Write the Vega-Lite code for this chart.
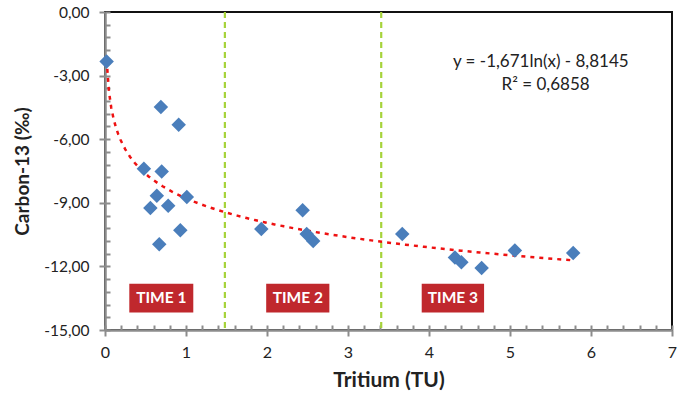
{
  "$schema": "https://vega.github.io/schema/vega-lite/v6.json",
  "width": 567,
  "height": 318,
  "autosize": "none",
  "padding": {"left": 105, "top": 12, "right": 23, "bottom": 67},
  "background": "white",
  "config": {
    "view": {"stroke": "#111111", "strokeWidth": 2},
    "font": "Lato"
  },
  "datasets": {
    "pts": [
      {"tritium": 0.02, "c13": -2.33},
      {"tritium": 0.69, "c13": -4.48},
      {"tritium": 0.91, "c13": -5.32},
      {"tritium": 0.48, "c13": -7.39},
      {"tritium": 0.70, "c13": -7.52},
      {"tritium": 0.64, "c13": -8.67},
      {"tritium": 0.56, "c13": -9.25},
      {"tritium": 0.78, "c13": -9.14},
      {"tritium": 1.01, "c13": -8.73},
      {"tritium": 0.93, "c13": -10.3},
      {"tritium": 0.67, "c13": -10.95},
      {"tritium": 1.93, "c13": -10.24},
      {"tritium": 2.44, "c13": -9.35},
      {"tritium": 2.49, "c13": -10.47},
      {"tritium": 2.57, "c13": -10.8},
      {"tritium": 3.67, "c13": -10.47},
      {"tritium": 4.32, "c13": -11.58},
      {"tritium": 4.40, "c13": -11.8},
      {"tritium": 4.65, "c13": -12.08},
      {"tritium": 5.06, "c13": -11.25},
      {"tritium": 5.78, "c13": -11.37}
    ],
    "boxes": [
      {"x1": 0.30, "x2": 1.09, "y1": -12.82, "y2": -14.18, "xm": 0.695, "label": "TIME 1"},
      {"x1": 1.99, "x2": 2.77, "y1": -12.82, "y2": -14.18, "xm": 2.38, "label": "TIME 2"},
      {"x1": 3.91, "x2": 4.68, "y1": -12.82, "y2": -14.18, "xm": 4.295, "label": "TIME 3"}
    ],
    "vlines": [{"x": 1.48}, {"x": 3.41}],
    "eq": [
      {"x": 5.38, "y": -2.34, "t": "y = -1,671ln(x) - 8,8145"},
      {"x": 5.44, "y": -3.43, "t": "R² = 0,6858"}
    ],
    "minorx": [
      {"v": 0}, {"v": 0.2}, {"v": 0.4}, {"v": 0.6}, {"v": 0.8}, {"v": 1}, {"v": 1.2}, {"v": 1.4}, {"v": 1.6}, {"v": 1.8},
      {"v": 2}, {"v": 2.2}, {"v": 2.4}, {"v": 2.6}, {"v": 2.8}, {"v": 3}, {"v": 3.2}, {"v": 3.4}, {"v": 3.6}, {"v": 3.8},
      {"v": 4}, {"v": 4.2}, {"v": 4.4}, {"v": 4.6}, {"v": 4.8}, {"v": 5}, {"v": 5.2}, {"v": 5.4}, {"v": 5.6}, {"v": 5.8},
      {"v": 6}, {"v": 6.2}, {"v": 6.4}, {"v": 6.6}, {"v": 6.8}, {"v": 7}
    ]
  },
  "resolve": {"axis": {"x": "independent", "y": "independent"}},
  "layer": [
    {
      "data": {"name": "minorx"},
      "mark": {"type": "point", "opacity": 0},
      "encoding": {
        "x": {"field": "v", "type": "quantitative", "scale": {"domain": [0, 7], "nice": false},
          "axis": {"orient": "bottom", "values": [0,0.2,0.4,0.6,0.8,1,1.2,1.4,1.6,1.8,2,2.2,2.4,2.6,2.8,3,3.2,3.4,3.6,3.8,4,4.2,4.4,4.6,4.8,5,5.2,5.4,5.6,5.8,6,6.2,6.4,6.6,6.8,7],
            "labels": false, "title": null, "domain": false, "grid": false, "tickSize": -5, "tickColor": "#8c8c8c", "tickWidth": 2}},
        "y": {"datum": -15, "type": "quantitative", "scale": {"domain": [-15, 0], "nice": false},
          "axis": {"orient": "left", "values": [-15,-14.4,-13.8,-13.2,-12.6,-12,-11.4,-10.8,-10.2,-9.6,-9,-8.4,-7.8,-7.2,-6.6,-6,-5.4,-4.8,-4.2,-3.6,-3,-2.4,-1.8,-1.2,-0.6,0],
            "labels": false, "title": null, "domain": false, "grid": false, "tickSize": -5, "tickColor": "#8c8c8c", "tickWidth": 2}}
      }
    },
    {
      "data": {"name": "boxes"},
      "mark": {"type": "rect", "color": "#c0282d"},
      "encoding": {
        "x": {"field": "x1", "type": "quantitative", "axis": null},
        "x2": {"field": "x2"},
        "y": {"field": "y1", "type": "quantitative", "axis": null},
        "y2": {"field": "y2"}
      }
    },
    {
      "data": {"name": "boxes"},
      "mark": {"type": "text", "color": "white", "fontWeight": "bold", "fontSize": 15.5, "baseline": "middle", "align": "center"},
      "encoding": {
        "x": {"field": "xm", "type": "quantitative", "axis": null},
        "y": {"datum": -13.5, "type": "quantitative", "axis": null},
        "text": {"field": "label"}
      }
    },
    {
      "data": {"name": "vlines"},
      "mark": {"type": "rule", "color": "#a6d33a", "strokeWidth": 2.2, "strokeDash": [6, 4]},
      "encoding": {
        "x": {"field": "x", "type": "quantitative", "axis": null}
      }
    },
    {
      "data": {"name": "pts"},
      "transform": [{"regression": "c13", "on": "tritium", "method": "log", "extent": [0.02, 5.78]}],
      "mark": {"type": "line", "color": "#ee1111", "strokeWidth": 2.5, "strokeDash": [4, 5]},
      "encoding": {
        "x": {"field": "tritium", "type": "quantitative", "axis": null},
        "y": {"field": "c13", "type": "quantitative", "axis": null}
      }
    },
    {
      "data": {"name": "pts"},
      "mark": {"type": "point", "shape": "diamond", "filled": true, "size": 210, "color": "#4a7ebb", "opacity": 1},
      "encoding": {
        "x": {"field": "tritium", "type": "quantitative",
          "axis": {"orient": "bottom", "values": [0,1,2,3,4,5,6,7], "title": "Tritium (TU)", "grid": false, "labelFlush": false,
            "domainColor": "#8c8c8c", "domainWidth": 2.5, "tickColor": "#8c8c8c", "tickWidth": 2, "tickSize": 6,
            "labelFontSize": 16, "labelColor": "#222222", "labelPadding": 8,
            "titleFontSize": 21, "titleFontWeight": "bold", "titleColor": "#222222", "titleY": 50, "titleBaseline": "middle"}},
        "y": {"field": "c13", "type": "quantitative",
          "axis": {"orient": "left", "values": [-15,-12,-9,-6,-3,0], "title": "Carbon-13 (‰)", "grid": false, "labelFlush": false,
            "labelExpr": "replace(replace(format(datum.value, '.2f'), '.', ','), '\u2212', '-')",
            "domainColor": "#8c8c8c", "domainWidth": 2.5, "tickColor": "#8c8c8c", "tickWidth": 2, "tickSize": 6,
            "labelFontSize": 15.5, "labelColor": "#222222", "labelPadding": 10,
            "titleFontSize": 19, "titleFontWeight": "bold", "titleColor": "#222222", "titleX": -83, "titleBaseline": "middle"}}
      }
    },
    {
      "data": {"name": "eq"},
      "mark": {"type": "text", "fontSize": 17, "color": "#222222", "align": "center", "baseline": "middle"},
      "encoding": {
        "x": {"field": "x", "type": "quantitative", "axis": null},
        "y": {"field": "y", "type": "quantitative", "axis": null},
        "text": {"field": "t"}
      }
    }
  ]
}
